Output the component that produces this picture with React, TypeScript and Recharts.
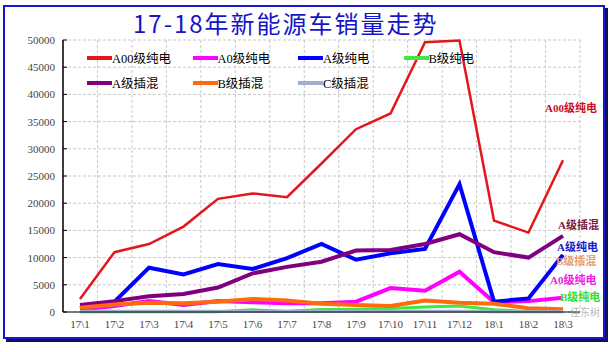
import { LineChart, Line, XAxis, YAxis, CartesianGrid } from 'recharts';

const months = ['17\\1', '17\\2', '17\\3', '17\\4', '17\\5', '17\\6', '17\\7', '17\\8', '17\\9', '17\\10', '17\\11', '17\\12', '18\\1', '18\\2', '18\\3'];

const a00Ev = [2400, 11000, 12500, 15700, 20800, 21800, 21100, 27300, 33600, 36500, 49600, 49900, 16800, 14600, 27900];
const a0Ev = [400, 1100, 2000, 1300, 2000, 1800, 1600, 1600, 1900, 4400, 3900, 7400, 1800, 2000, 2600];
const aEv = [700, 1900, 8150, 6900, 8800, 7900, 9900, 12500, 9600, 10800, 11600, 23500, 1900, 2500, 10500];
const bEv = [50, 50, 50, 50, 50, 400, 150, 450, 500, 650, 900, 1100, 400, 100, 200];
const aPhev = [1300, 2000, 2900, 3300, 4500, 7100, 8300, 9250, 11300, 11400, 12500, 14300, 11000, 10000, 14000];
const bPhev = [800, 1400, 1700, 1600, 1900, 2400, 2100, 1500, 1300, 1100, 2100, 1700, 1500, 700, 500];
const cPhev = [150, 150, 150, 150, 150, 100, 100, 100, 150, 150, 150, 150, 50, 50, 50];

const yTicks = [0, 5000, 10000, 15000, 20000, 25000, 30000, 35000, 40000, 45000, 50000];

const SERIES = [
  { key: 'a00', name: 'A00级纯电', color: '#E4161B', width: 2.5, values: a00Ev },
  { key: 'a0', name: 'A0级纯电', color: '#FF00FF', width: 4, values: a0Ev },
  { key: 'a', name: 'A级纯电', color: '#0000FF', width: 4, values: aEv },
  { key: 'b', name: 'B级纯电', color: '#3FE83F', width: 3, values: bEv },
  { key: 'aph', name: 'A级插混', color: '#800080', width: 4, values: aPhev },
  { key: 'bph', name: 'B级插混', color: '#FF6A10', width: 4, values: bPhev },
  { key: 'cph', name: 'C级插混', color: '#9DB0CF', width: 3, values: cPhev },
];

// side labels next to the line ends
const SIDE_LABELS = [
  { text: 'A00级纯电', color: '#C8101E', left: 545, top: 100 },
  { text: 'A级插混', color: '#7B1A3A', left: 558, top: 217 },
  { text: 'A级纯电', color: '#1A1ACD', left: 557, top: 239 },
  { text: 'B级插混', color: '#E8A070', left: 556, top: 253 },
  { text: 'A0级纯电', color: '#F020E0', left: 550, top: 272 },
  { text: 'B级纯电', color: '#33DD33', left: 560, top: 289 },
];

const data = months.map((m, i) => {
  const row: Record<string, string | number> = { month: m };
  SERIES.forEach((s) => {
    row[s.key] = s.values[i];
  });
  return row;
});

const SERIF = "'Liberation Serif', 'Noto Sans CJK SC', serif";

function YTick(props: any) {
  const { x, y, payload } = props;
  return (
    <g>
      <line x1={x} x2={x + 4} y1={y} y2={y} stroke="#000" />
      <text x={x - 8} y={y} textAnchor="end" dominantBaseline="central" fontSize={11} fill="#444" fontFamily={SERIF}>
        {payload.value}
      </text>
    </g>
  );
}

export default function App() {
  return (
    <div style={{ position: 'absolute', left: 0, top: 0, width: 613, height: 352, background: '#fff' }}>
      <div
        style={{
          position: 'absolute',
          left: 3,
          top: 5,
          width: 598,
          height: 330,
          border: '2px solid #1818D0',
          boxShadow: '3px 3px 0 #12125A',
        }}
      />
      <div
        style={{
          position: 'absolute',
          left: 133,
          top: 8,
          fontFamily: "'Noto Sans CJK SC', sans-serif",
          fontSize: 24,
          letterSpacing: 2,
          color: '#1414C8',
          lineHeight: '30px',
        }}
      >
        17-18年新能源车销量走势
      </div>
      <div style={{ position: 'absolute', left: 0, top: 0 }}>
        <LineChart width={613} height={352} data={data} margin={{ top: 40, right: 33, bottom: 10, left: 0 }}>
          <CartesianGrid
            stroke="#C8C8C8"
            strokeDasharray="3 2"
            verticalCoordinatesGenerator={({ offset }: any) =>
              Array.from({ length: months.length + 1 }, (_, i) => offset.left + (i * offset.width) / months.length)
            }
          />
          <XAxis
            dataKey="month"
            height={30}
            padding={{ left: 17, right: 17 }}
            tickSize={0}
            tickMargin={8}
            tickLine={false}
            axisLine={{ stroke: '#000' }}
            tick={{ fontSize: 11, fill: '#444', fontFamily: SERIF }}
            interval={0}
          />
          <YAxis
            width={63}
            domain={[0, 50000]}
            ticks={yTicks}
            tickSize={0}
            tickMargin={0}
            tickLine={false}
            axisLine={{ stroke: '#000', strokeWidth: 1.5 }}
            tick={<YTick />}
            interval={0}
          />
          {SERIES.map((s) => (
            <Line
              key={s.key}
              dataKey={s.key}
              name={s.name}
              stroke={s.color}
              strokeWidth={s.width}
              dot={false}
              type="linear"
              isAnimationActive={false}
            />
          ))}
        </LineChart>
      </div>
      <div
        style={{
          position: 'absolute',
          left: 87,
          top: 45,
          display: 'grid',
          gridTemplateColumns: 'repeat(4, 105.5px)',
          gridAutoRows: '25px',
          fontFamily: SERIF,
          fontSize: 12.5,
          color: '#000',
        }}
      >
        {SERIES.map((s) => (
          <div key={s.key} style={{ display: 'flex', alignItems: 'center' }}>
            <span style={{ display: 'inline-block', width: 25, height: 4, background: s.color }} />
            <span>{s.name}</span>
          </div>
        ))}
      </div>
      {SIDE_LABELS.map((l) => (
        <div
          key={l.text}
          style={{
            position: 'absolute',
            left: l.left,
            top: l.top,
            fontFamily: SERIF,
            fontSize: 11,
            fontWeight: 'bold',
            color: l.color,
            lineHeight: '16px',
            whiteSpace: 'nowrap',
          }}
        >
          {l.text}
        </div>
      ))}
      <div
        style={{
          position: 'absolute',
          left: 570,
          top: 306,
          fontFamily: "'Noto Sans CJK SC', sans-serif",
          fontSize: 10,
          lineHeight: '12px',
          color: 'rgba(150,150,150,0.7)',
          whiteSpace: 'nowrap',
        }}
      >
        佳东树
      </div>
    </div>
  );
}
